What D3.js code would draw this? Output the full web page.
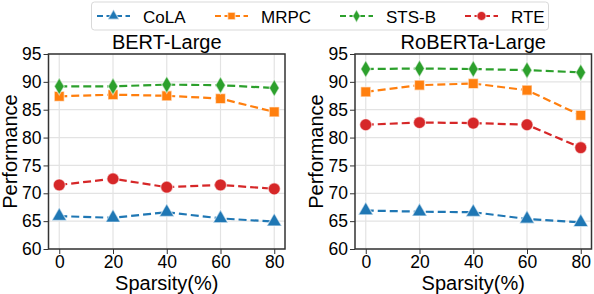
<!DOCTYPE html>
<html><head><meta charset="utf-8">
<script src="https://cdn.jsdelivr.net/npm/d3@7"></script>
<style>body{margin:0;background:#fff}svg{display:block;font-family:"Liberation Sans",Arial,sans-serif}</style>
</head><body>
<svg id="c" width="594" height="294"></svg>
<script>
const sparsity = [0, 20, 40, 60, 80];
const yTicks = [60, 65, 70, 75, 80, 85, 90, 95];
const seriesNames = ["CoLA", "MRPC", "STS-B", "RTE"];
const colors = ["#1f77b4", "#ff7f0e", "#2ca02c", "#d62728"];
const markers = ["triangle", "square", "diamond", "circle"];
const panelTitles = ["BERT-Large", "RoBERTa-Large"];
const bertCoLA = [65.9, 65.6, 66.6, 65.5, 64.9];
const bertMRPC = [87.4, 87.7, 87.5, 87.0, 84.6];
const bertSTSB = [89.2, 89.2, 89.5, 89.4, 88.9];
const bertRTE  = [71.5, 72.6, 71.1, 71.5, 70.8];
const robCoLA = [66.9, 66.7, 66.6, 65.4, 64.8];
const robMRPC = [88.2, 89.4, 89.7, 88.5, 84.0];
const robSTSB = [92.3, 92.4, 92.3, 92.1, 91.7];
const robRTE  = [82.3, 82.7, 82.6, 82.3, 78.2];
const panelData = [[bertCoLA, bertMRPC, bertSTSB, bertRTE], [robCoLA, robMRPC, robSTSB, robRTE]];

const svg = d3.select("#c");
const panels = [{x0: 48.5, x1: 285}, {x0: 355, x1: 591.5}];
const yTop = 54, yBot = 249;
const y = d3.scaleLinear().domain([60, 95]).range([yBot, yTop]);

function drawMarker(g, type, color, cx, cy, s) {
  let d;
  if (type === "diamond") d = `M0,${-8.5*s}L${5*s},0L0,${8.5*s}L${-5*s},0Z`;
  else if (type === "triangle") d = d3.symbol().type(d3.symbolTriangle).size(95 * s * s)();
  else if (type === "square") d = d3.symbol().type(d3.symbolSquare).size(100 * s * s)();
  else d = d3.symbol().type(d3.symbolCircle).size(115 * s * s)();
  g.append("path").attr("d", d).attr("transform", `translate(${cx},${cy})`).attr("fill", color)
   .attr("stroke", "#fff").attr("stroke-opacity", 0.55).attr("stroke-width", 1.3);
}

panels.forEach((pn, pi) => {
  const x = d3.scaleLinear().domain([-4, 84]).range([pn.x0, pn.x1]);
  const g = svg.append("g");
  g.selectAll(".gx").data(sparsity).enter().append("line")
    .attr("x1", d => x(d)).attr("x2", d => x(d)).attr("y1", yTop).attr("y2", yBot)
    .attr("stroke", "#e3e3e3").attr("stroke-width", 1.2);
  g.selectAll(".gy").data(yTicks).enter().append("line")
    .attr("x1", pn.x0).attr("x2", pn.x1).attr("y1", d => y(d)).attr("y2", d => y(d))
    .attr("stroke", "#e3e3e3").attr("stroke-width", 1.2);
  const ax = g.append("g").attr("transform", `translate(0,${yBot})`)
    .call(d3.axisBottom(x).tickValues(sparsity).tickSize(5).tickPadding(4));
  const ay = g.append("g").attr("transform", `translate(${pn.x0},0)`)
    .call(d3.axisLeft(y).tickValues(yTicks).tickSize(5).tickPadding(2));
  [ax, ay].forEach(a => {
    a.select(".domain").remove();
    a.selectAll("line").attr("stroke", "#333").attr("stroke-width", 1);
    a.selectAll("text").attr("font-size", 17.5).attr("fill", "#000")
      .attr("font-family", '"Liberation Sans",Arial,sans-serif');
  });
  ax.selectAll("text").attr("y", 19).attr("dy", 0);
  panelData[pi].forEach((vals, si) => {
    const line = d3.line().x((d, i) => x(sparsity[i])).y(d => y(d));
    g.append("path").datum(vals).attr("d", line).attr("fill", "none")
      .attr("stroke", colors[si]).attr("stroke-width", 2.2).attr("stroke-dasharray", "8,4");
    vals.forEach((v, i) => drawMarker(g, markers[si], colors[si], x(sparsity[i]), y(v), 1));
  });
  g.append("rect").attr("x", pn.x0).attr("y", yTop).attr("width", pn.x1 - pn.x0).attr("height", yBot - yTop)
    .attr("fill", "none").attr("stroke", "#333").attr("stroke-width", 1.5);
  const cx = (pn.x0 + pn.x1) / 2;
  g.append("text").attr("x", cx).attr("y", 49).attr("text-anchor", "middle")
    .attr("font-size", 20).text(panelTitles[pi]);
  g.append("text").attr("x", cx).attr("y", 290).attr("text-anchor", "middle")
    .attr("font-size", 20).text("Sparsity(%)");
  g.append("text").attr("transform", `translate(${pn.x0 - 32},${(yTop + yBot) / 2}) rotate(-90)`)
    .attr("text-anchor", "middle").attr("font-size", 20).text("Performance");
});

const lg = svg.append("g");
lg.append("rect").attr("x", 91.5).attr("y", 2).attr("width", 457).attr("height", 28).attr("rx", 3)
  .attr("fill", "#fff").attr("stroke", "#d9d9d9").attr("stroke-width", 1);
const legX = [97, 215, 340, 465];
seriesNames.forEach((n, i) => {
  const lx = legX[i];
  lg.append("line").attr("x1", lx).attr("x2", lx + 33).attr("y1", 16).attr("y2", 16)
    .attr("stroke", colors[i]).attr("stroke-width", 2).attr("stroke-dasharray", "6,3.5");
  drawMarker(lg, markers[i], colors[i], lx + 16.5, 16, 0.75);
  lg.append("text").attr("x", lx + 46).attr("y", 22.5).attr("font-size", 17).text(n);
});
</script>
</body></html>
